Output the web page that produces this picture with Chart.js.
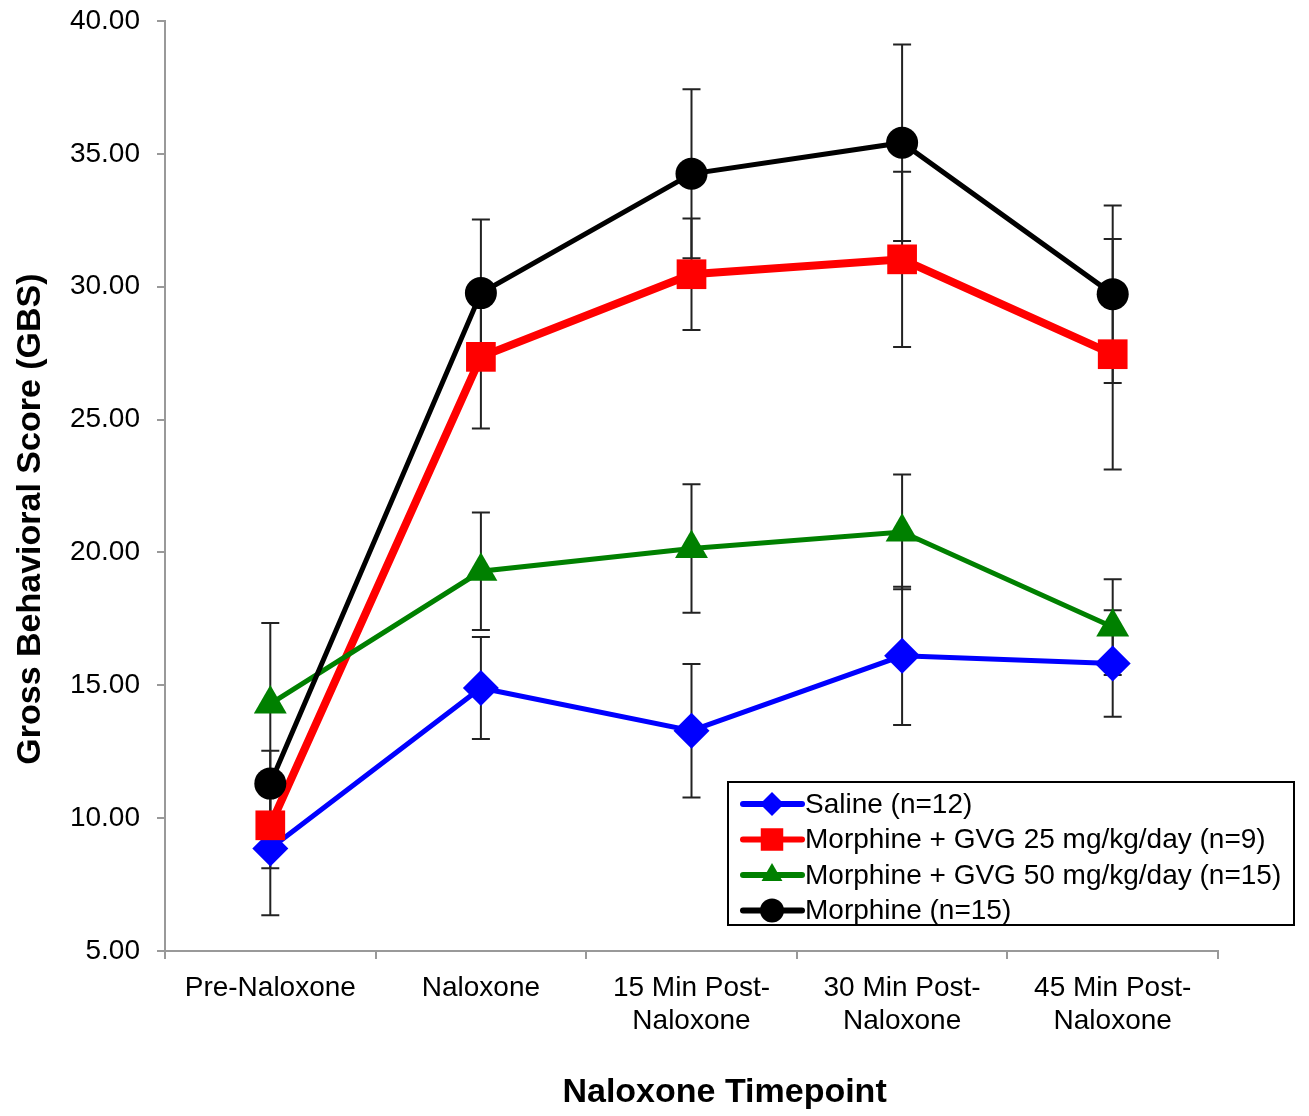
<!DOCTYPE html>
<html>
<head>
<meta charset="utf-8">
<script src="https://cdn.jsdelivr.net/npm/chart.js@4.4.0/dist/chart.umd.min.js"></script>
<style>
  html, body { margin: 0; padding: 0; background: #fff; }
</style>
</head>
<body>
<canvas id="myChart" width="1309" height="1116"></canvas>
<script>
const categories = ['Pre-Naloxone', 'Naloxone', ['15 Min Post-', 'Naloxone'], ['30 Min Post-', 'Naloxone'], ['45 Min Post-', 'Naloxone']];
const yTicks = [5, 10, 15, 20, 25, 30, 35, 40];

const seriesNames = ['Saline (n=12)', 'Morphine + GVG 25 mg/kg/day (n=9)', 'Morphine + GVG 50 mg/kg/day (n=15)', 'Morphine (n=15)'];

const saline = [8.86, 14.90, 13.29, 16.11, 15.82];
const salineErr = [2.51, 1.92, 2.51, 2.60, 2.00];

const gvg25 = [9.73, 27.36, 30.47, 31.03, 27.46];
const gvg25Err = [1.62, 2.70, 2.10, 3.30, 4.34];

const gvg50 = [14.30, 19.29, 20.15, 20.77, 17.19];
const gvg50Err = [3.04, 2.21, 2.42, 2.16, 1.80];

const morphine = [11.30, 29.76, 34.25, 35.42, 29.72];
const morphineErr = [1.24, 2.77, 3.18, 3.70, 3.34];

const FONT = '"Liberation Sans", Arial, sans-serif';

// error bars, drawn under the lines and markers
const errorBars = {
  id: 'errorBars',
  beforeDatasetsDraw(chart) {
    const ctx = chart.ctx;
    const x = chart.scales.x, y = chart.scales.y;
    ctx.save();
    ctx.strokeStyle = '#222';
    ctx.lineWidth = 2;
    chart.data.datasets.forEach(ds => {
      ds.data.forEach((v, i) => {
        const e = ds.err[i];
        const px = x.getPixelForValue(i);
        const top = y.getPixelForValue(v + e);
        const bot = y.getPixelForValue(v - e);
        ctx.beginPath();
        ctx.moveTo(px, top); ctx.lineTo(px, bot);
        ctx.moveTo(px - 9, top); ctx.lineTo(px + 9, top);
        ctx.moveTo(px - 9, bot); ctx.lineTo(px + 9, bot);
        ctx.stroke();
      });
    });
    ctx.restore();
  }
};

function marker(ctx, style, cx, cy, r) {
  ctx.beginPath();
  if (style === 'rectRot') {
    ctx.moveTo(cx, cy - r); ctx.lineTo(cx + r, cy); ctx.lineTo(cx, cy + r); ctx.lineTo(cx - r, cy);
  } else if (style === 'rect') {
    const s = r * 0.75;
    ctx.rect(cx - s, cy - s, 2 * s, 2 * s);
  } else if (style === 'triangle') {
    ctx.moveTo(cx, cy - r); ctx.lineTo(cx + r * 0.87, cy + r * 0.5); ctx.lineTo(cx - r * 0.87, cy + r * 0.5);
  } else {
    ctx.arc(cx, cy, r, 0, Math.PI * 2);
  }
  ctx.closePath();
  ctx.fill();
}

// boxed legend inside the plot area, lower right
const legendBox = {
  id: 'legendBox',
  afterDraw(chart) {
    const ctx = chart.ctx;
    const a = chart.chartArea;
    const x0 = a.left + 563, y0 = a.bottom - 169, w = 566, h = 143;
    ctx.save();
    ctx.fillStyle = '#fff';
    ctx.fillRect(x0, y0, w, h);
    ctx.strokeStyle = '#000';
    ctx.lineWidth = 2;
    ctx.strokeRect(x0, y0, w, h);
    ctx.font = '28px ' + FONT;
    ctx.textBaseline = 'middle';
    chart.data.datasets.forEach((ds, i) => {
      const cy = y0 + 22 + i * 35.5;
      ctx.strokeStyle = ds.borderColor;
      ctx.lineWidth = 6;
      ctx.lineCap = 'round';
      ctx.beginPath();
      ctx.moveTo(x0 + 15, cy); ctx.lineTo(x0 + 74, cy);
      ctx.stroke();
      ctx.fillStyle = ds.borderColor;
      marker(ctx, ds.pointStyle, x0 + 44, cy, ds.pointStyle === 'rect' ? 15 : 12);
      ctx.fillStyle = '#000';
      ctx.fillText(ds.label, x0 + 77, cy + 1);
    });
    ctx.restore();
  }
};

const colors = ['#0000ff', '#ff0000', '#008000', '#000000'];
const styles = ['rectRot', 'rect', 'triangle', 'circle'];
const radii = [18, 21, 19, 16];
const widths = [5, 8, 5, 5];
const values = [saline, gvg25, gvg50, morphine];
const errs = [salineErr, gvg25Err, gvg50Err, morphineErr];

const datasets = values.map((vals, i) => ({
  label: seriesNames[i],
  data: vals,
  err: errs[i],
  borderColor: colors[i],
  backgroundColor: colors[i],
  borderWidth: widths[i],
  pointStyle: styles[i],
  pointRadius: radii[i],
  pointBorderWidth: 0,
  pointBackgroundColor: colors[i],
  tension: 0,
  order: 4 - i
}));

new Chart(document.getElementById('myChart'), {
  type: 'line',
  data: { labels: categories, datasets: datasets },
  options: {
    responsive: false,
    animation: false,
    devicePixelRatio: 1,
    layout: { padding: { top: 18, right: 91, left: 0, bottom: 0 } },
    plugins: {
      legend: { display: false },
      tooltip: { enabled: false }
    },
    scales: {
      x: {
        type: 'category',
        offset: true,
        afterFit: s => { s.height = 165; s.paddingLeft = 0; s.paddingRight = 0; },
        grid: { offset: true, drawOnChartArea: false, drawTicks: true, tickLength: 8, color: '#999', lineWidth: 2 },
        border: { color: '#999', width: 2 },
        ticks: { color: '#000', padding: 12, maxRotation: 0, autoSkip: false, font: { family: FONT, size: 28 } },
        title: { display: true, text: '       Naloxone Timepoint', color: '#000', padding: { top: 0, bottom: 3 }, font: { family: FONT, size: 34, weight: 'bold' } }
      },
      y: {
        min: 5,
        max: 40,
        afterFit: s => { s.width = 165; s.paddingTop = 0; s.paddingBottom = 0; },
        afterBuildTicks: s => { s.ticks = yTicks.map(v => ({ value: v })); },
        grid: { drawOnChartArea: false, drawTicks: true, tickLength: 8, color: '#999', lineWidth: 2 },
        border: { color: '#999', width: 2 },
        ticks: { color: '#000', padding: 17, callback: v => Number(v).toFixed(2), font: { family: FONT, size: 28 } },
        title: { display: true, text: 'Gross Behavioral Score (GBS)       ', color: '#000', padding: { top: 10, bottom: 0 }, font: { family: FONT, size: 34, weight: 'bold' } }
      }
    }
  },
  plugins: [errorBars, legendBox]
});
</script>
</body>
</html>
